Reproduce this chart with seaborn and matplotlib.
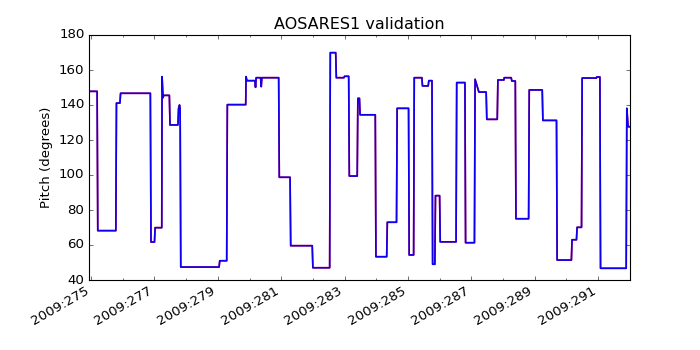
import matplotlib
matplotlib.use("Agg")
import matplotlib.pyplot as plt
from matplotlib.ticker import FixedLocator, FixedFormatter
import seaborn as sns
import pandas as pd

# Pitch vertices (day of year 2009, degrees)
days = [274.93, 275.19, 275.21, 275.78, 275.80, 275.91, 275.93, 276.87, 276.89, 277.00,
        277.02, 277.23, 277.24, 277.27, 277.29, 277.47, 277.49, 277.74, 277.76, 277.79,
        277.81, 277.83, 279.04, 279.06, 279.28, 279.30, 279.88, 279.89, 279.92, 280.17,
        280.19, 280.21, 280.35, 280.37, 280.39, 280.92, 280.94, 281.28, 281.30, 281.98,
        282.00, 282.53, 282.55, 282.72, 282.74, 282.98, 283.00, 283.13, 283.15, 283.40,
        283.42, 283.47, 283.49, 283.97, 283.99, 284.33, 284.35, 284.64, 284.66, 285.02,
        285.04, 285.18, 285.20, 285.44, 285.46, 285.64, 285.66, 285.76, 285.78, 285.85,
        285.87, 286.00, 286.02, 286.52, 286.54, 286.80, 286.82, 287.10, 287.12, 287.24,
        287.47, 287.49, 287.82, 287.84, 288.03, 288.04, 288.26, 288.28, 288.39, 288.41,
        288.81, 288.83, 289.24, 289.26, 289.69, 289.71, 290.16, 290.18, 290.32, 290.34,
        290.48, 290.50, 290.95, 290.96, 291.06, 291.08, 291.89, 291.91, 291.95, 292.01]
pitch = [147.8, 147.8, 68.2, 68.2, 141.1, 141.1, 146.7, 146.7, 61.7, 61.7,
         69.9, 69.9, 156.2, 144.2, 145.5, 145.5, 128.6, 128.6, 138.0, 140.0,
         138.0, 47.4, 47.4, 51.0, 51.0, 140.2, 140.2, 156.2, 153.9, 153.9,
         150.1, 155.6, 155.6, 150.5, 155.6, 155.6, 98.7, 98.7, 59.6, 59.6,
         47.0, 47.0, 169.9, 169.9, 155.6, 155.6, 156.4, 156.4, 99.4, 99.4,
         143.8, 143.8, 134.4, 134.4, 53.3, 53.3, 73.0, 73.0, 138.1, 138.1,
         54.3, 54.3, 155.6, 155.6, 150.9, 150.9, 153.9, 153.9, 49.0, 49.0,
         88.2, 88.2, 61.8, 61.8, 152.8, 152.8, 61.3, 61.3, 154.7, 147.4,
         147.4, 131.8, 131.8, 154.3, 154.3, 155.6, 155.6, 153.7, 153.7, 75.0,
         75.0, 148.6, 148.6, 131.2, 131.2, 51.4, 51.4, 63.0, 63.0, 70.1,
         70.1, 155.4, 155.4, 156.0, 156.0, 46.7, 46.7, 138.1, 127.6, 127.6]

major_days = [275, 277, 279, 281, 283, 285, 287, 289, 291]
minor_days = [276, 278, 280, 282, 284, 286, 288, 290]
tick_labels = [f"2009:{d}" for d in major_days]
y_ticks = [40, 60, 80, 100, 120, 140, 160, 180]

plt.style.use("classic")
plt.rcParams["figure.facecolor"] = "white"
plt.rcParams["savefig.facecolor"] = "white"
plt.rcParams["font.family"] = ["DejaVu Sans"]

df = pd.DataFrame({"day": days, "pitch": pitch})

fig = plt.figure(figsize=(8.75, 4.375), dpi=80)
ax = fig.add_subplot(111)
sns.lineplot(data=df, x="day", y="pitch", ax=ax, sort=False, estimator=None,
             color="red", linewidth=1.5)
sns.lineplot(data=df, x="day", y="pitch", ax=ax, sort=False, estimator=None,
             color="blue", linewidth=1.5, alpha=0.95)

ax.set_xlim(274.93, 292.01)
ax.set_ylim(40, 180)
ax.yaxis.set_major_locator(FixedLocator(y_ticks))
ax.xaxis.set_major_locator(FixedLocator(major_days))
ax.xaxis.set_major_formatter(FixedFormatter(tick_labels))
ax.xaxis.set_minor_locator(FixedLocator(minor_days))
ax.tick_params(which="both", direction="in", top=True, right=True)
ax.tick_params(which="major", length=4)
ax.tick_params(which="minor", length=2)
ax.set_xlabel("")
ax.set_ylabel("Pitch (degrees)")
ax.set_title("AOSARES1 validation")

fig.subplots_adjust(left=0.127, right=0.9, top=0.9, bottom=0.2)
for lbl in ax.get_xticklabels():
    lbl.set_rotation(30)
    lbl.set_ha("right")

fig.savefig("out.png", dpi=80)
